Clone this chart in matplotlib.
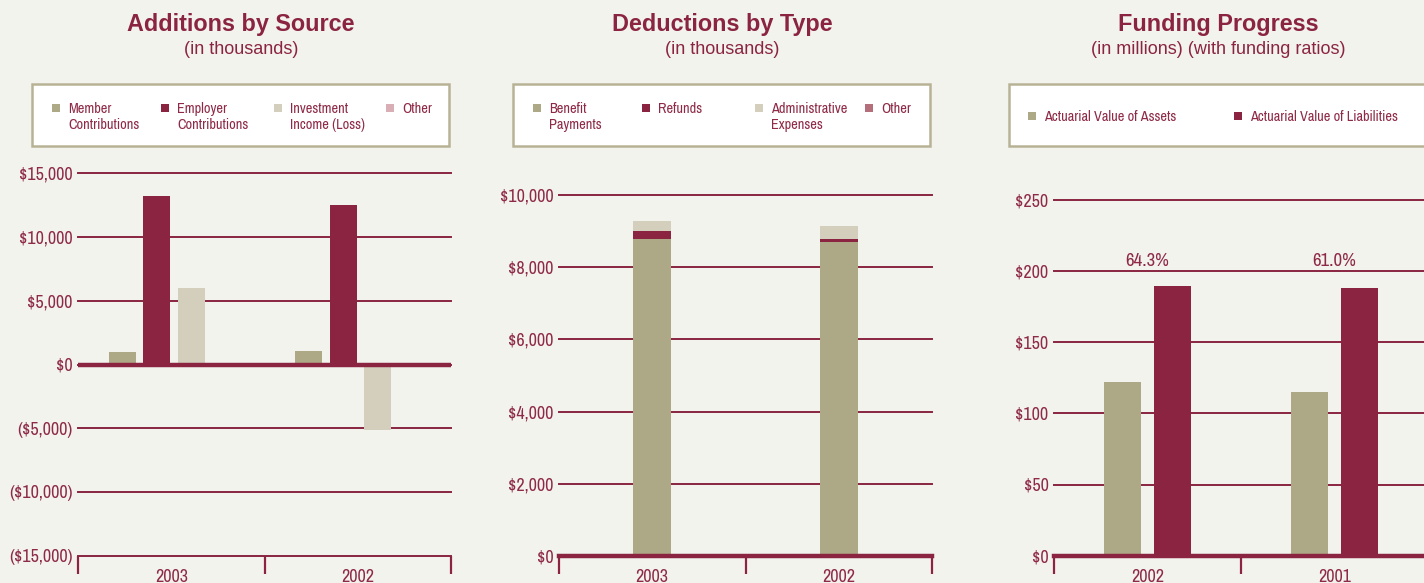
import matplotlib
matplotlib.use("Agg")
import matplotlib.pyplot as plt
from matplotlib.patches import Rectangle

W, H = 1424, 583

# data (in thousands / millions)
add_years = ['2003', '2002']
add_labels = ['Member\nContributions', 'Employer\nContributions', 'Investment\nIncome (Loss)', 'Other']
member = [1000, 1050]
employer = [13200, 12500]
investment = [6000, -5150]
other_add = [0, 0]

ded_years = ['2003', '2002']
ded_labels = ['Benefit\nPayments', 'Refunds', 'Administrative\nExpenses', 'Other']
benefits = [8800, 8700]
refunds = [220, 100]
admin = [280, 360]
other_ded = [0, 0]

fund_years = ['2002', '2001']
fund_labels = ['Actuarial Value of Assets', 'Actuarial Value of Liabilities']
assets = [121.8, 114.8]
liabilities = [189.5, 188.2]

add_ticks = [15000, 10000, 5000, 0, -5000, -10000, -15000]
ded_ticks = [10000, 8000, 6000, 4000, 2000, 0]
fund_ticks = [250, 200, 150, 100, 50, 0]

MAROON = '#8a2441'
TAN = '#ada886'
LIGHT = '#d4cfbd'
PINK = '#d9aeb4'
ROSE = '#b46f7b'
TEXT = '#8e2a47'
BG = '#f3f3ee'

narrow = ['Archivo Narrow', 'Liberation Sans', 'DejaVu Sans']
plt.rcParams['font.family'] = ['Liberation Sans', 'DejaVu Sans']

fig = plt.figure(figsize=(W / 100, H / 100), dpi=100, facecolor=BG)


def fx(px):
    return px / W


def fy(py):
    return 1 - py / H


def money(v):
    s = f"${abs(v):,.0f}"
    return f"({s})" if v < 0 else s


def make_axes(left, right, top, bottom, ticks, years):
    ax = fig.add_axes([fx(left), fy(bottom), (right - left) / W, (bottom - top) / H])
    ax.set_facecolor('none')
    for s in ax.spines.values():
        s.set_visible(False)
    ax.set_xlim(0, 2)
    ax.set_ylim(min(ticks), max(ticks))
    for t in ticks:
        ax.axhline(t, color=MAROON, lw=1.4, zorder=1, clip_on=False)
    ax.set_yticks(ticks)
    ax.set_yticklabels([money(t) for t in ticks], family=narrow, fontsize=13, color=TEXT)
    ax.tick_params(axis='y', length=0, pad=4)
    ax.set_xticks([0, 1, 2])
    ax.set_xticklabels([])
    ax.tick_params(axis='x', which='major', direction='out', length=13, width=1.6, color=MAROON)
    ax.set_xticks([0.5, 1.5], minor=True)
    ax.set_xticklabels(years, minor=True, family=narrow, fontsize=13, color=TEXT)
    ax.tick_params(axis='x', which='minor', length=0, pad=9.5)
    return ax


def heading(cx, title, sub):
    fig.text(fx(cx), fy(24), title, ha='center', va='center', fontsize=16.8,
             fontweight='bold', color=MAROON)
    fig.text(fx(cx), fy(49), sub, ha='center', va='center', fontsize=13, color=MAROON)


def legend_box(left, right, entries, xs, colors, single=False):
    fig.patches.append(Rectangle((fx(left), fy(146)), (right - left) / W, 62 / H,
                                 transform=fig.transFigure, facecolor='white',
                                 edgecolor='#b8b295', lw=1.8, zorder=0))
    for label, x, c in zip(entries, xs, colors):
        mtop = 112 if single else 104
        fig.patches.append(Rectangle((fx(x), fy(mtop + 8)), 8 / W, 8 / H,
                                     transform=fig.transFigure, facecolor=c,
                                     edgecolor='none'))
        if single:
            fig.text(fx(x + 16), fy(117), label, ha='left', va='center',
                     family=narrow, fontsize=10.3, color=TEXT)
        else:
            fig.text(fx(x + 16), fy(102), label, ha='left', va='top',
                     family=narrow, fontsize=10.3, color=TEXT, linespacing=1.2)


# Additions by Source
heading(241, 'Additions by Source', '(in thousands)')
legend_box(32, 449, add_labels, [52, 161, 274, 386], [TAN, MAROON, LIGHT, PINK])
ax1 = make_axes(78, 451, 173.3, 555.7, add_ticks, add_years)
pos = [0.5, 1.5]
bw, step = 0.145, 0.1855
for i, (vals, c) in enumerate(zip([member, employer, investment, other_add],
                                  [TAN, MAROON, LIGHT, PINK])):
    ax1.bar([p + (i - 1.5) * step + 0.015 for p in pos], vals, width=bw, color=c, zorder=2)
ax1.axhline(0, color=MAROON, lw=3.2, zorder=3)

# Deductions by Type
heading(722, 'Deductions by Type', '(in thousands)')
legend_box(513, 930, ded_labels, [533, 642, 755, 865], [TAN, MAROON, LIGHT, ROSE])
ax2 = make_axes(559, 932, 195.3, 555.7, ded_ticks, ded_years)
bottom = [0, 0]
for vals, c in zip([benefits, refunds, admin, other_ded], [TAN, MAROON, LIGHT, ROSE]):
    ax2.bar(pos, vals, width=0.204, bottom=bottom, color=c, zorder=2)
    bottom = [b + v for b, v in zip(bottom, vals)]
ax2.axhline(0, color=MAROON, lw=3.2, zorder=3, clip_on=False)

# Funding Progress
heading(1218, 'Funding Progress', '(in millions) (with funding ratios)')
legend_box(1009, 1427, fund_labels, [1028, 1234], [TAN, MAROON], single=True)
ax3 = make_axes(1054, 1428, 199.7, 555.7, fund_ticks, fund_years)
ax3.bar([p - 0.134 for p in pos], assets, width=0.198, color=TAN, zorder=2)
ax3.bar([p + 0.134 for p in pos], liabilities, width=0.198, color=MAROON, zorder=2)
ax3.axhline(0, color=MAROON, lw=3.2, zorder=3, clip_on=False)
for p, a, l in zip(pos, assets, liabilities):
    ax3.annotate(f"{a / l * 100:.1f}%", (p, 200), xytext=(0, 3.5), textcoords='offset points',
                 ha='center', va='baseline', family=narrow, fontsize=13.5, color=TEXT)

fig.savefig('out.png', dpi=100, facecolor=BG)
